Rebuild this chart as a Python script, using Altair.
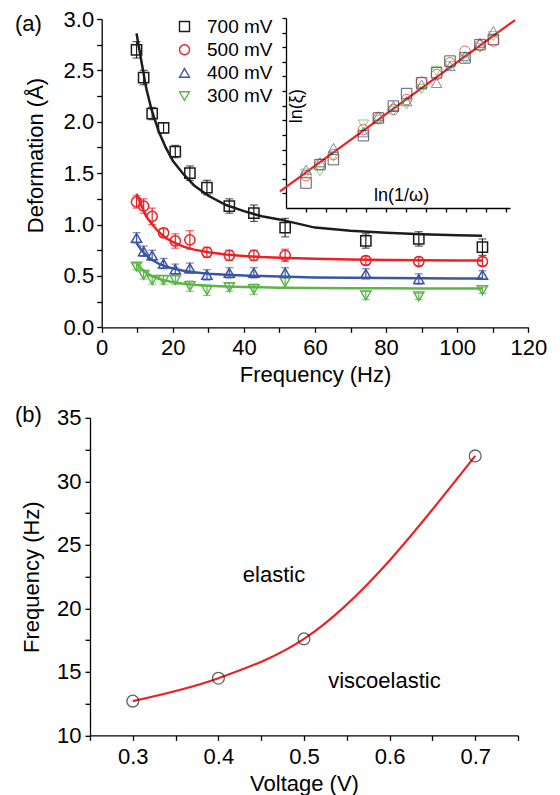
import altair as alt
import pandas as pd

FONT = "Liberation Sans"

# ---------------- data: panel (a) ----------------
series_names = ["700 mV", "500 mV", "400 mV", "300 mV"]
series_colors = ["#1c1c1c", "#ee2024", "#3a55a5", "#5bb547"]
series_shapes = ["square", "circle", "triangle-up", "triangle-down"]

freq = [9.8, 11.8, 14.2, 17.4, 20.7, 24.8, 29.6, 35.9, 42.8, 51.6, 74.3, 89.2, 107.1]
def_700 = [2.70, 2.43, 2.08, 1.94, 1.71, 1.50, 1.36, 1.18, 1.11, 0.97, 0.84, 0.86, 0.78]
def_500 = [1.22, 1.18, 1.08, 0.92, 0.84, 0.85, 0.73, 0.70, 0.70, 0.70, 0.65, 0.64, 0.64]
def_400 = [0.87, 0.74, 0.70, 0.62, 0.565, 0.575, 0.51, 0.53, 0.53, 0.53, 0.52, 0.47, 0.51]
def_300 = [0.59, 0.51, 0.46, 0.46, 0.46, 0.40, 0.36, 0.39, 0.37, 0.44, 0.31, 0.30, 0.36]
err_700 = [0.08, 0.07, 0.06, 0.05, 0.06, 0.07, 0.07, 0.07, 0.08, 0.09, 0.07, 0.07, 0.08]
err_500 = [0.06, 0.07, 0.08, 0.04, 0.07, 0.09, 0.05, 0.05, 0.05, 0.06, 0.04, 0.04, 0.04]
err_400 = [0.05, 0.05, 0.05, 0.05, 0.05, 0.05, 0.05, 0.05, 0.05, 0.05, 0.05, 0.05, 0.04]
err_300 = [0.03, 0.04, 0.04, 0.04, 0.04, 0.05, 0.05, 0.04, 0.05, 0.05, 0.04, 0.03, 0.03]

fit_freq = [9.8, 11, 12.5, 14, 16, 18, 20, 23, 26, 30, 35, 40, 45, 50, 60, 70, 80, 90, 100, 107]
fit_700 = [2.86, 2.62, 2.33, 2.12, 1.91, 1.75, 1.62, 1.49, 1.38, 1.28, 1.19, 1.13, 1.08, 1.05,
           0.97, 0.94, 0.92, 0.905, 0.895, 0.89]
fit_500 = [1.30, 1.20, 1.08, 1.01, 0.93, 0.87, 0.83, 0.785, 0.756, 0.73, 0.708, 0.694, 0.683,
           0.676, 0.666, 0.66, 0.655, 0.652, 0.65, 0.65]
fit_400 = [0.82, 0.76, 0.70, 0.66, 0.62, 0.593, 0.573, 0.551, 0.536, 0.522, 0.511, 0.503, 0.498,
           0.494, 0.485, 0.482, 0.479, 0.477, 0.475, 0.474]
fit_300 = [0.62, 0.575, 0.532, 0.50, 0.473, 0.454, 0.439, 0.424, 0.414, 0.405, 0.397, 0.392,
           0.389, 0.386, 0.382, 0.38, 0.379, 0.378, 0.377, 0.377]

x_ticks_a = [0, 10, 20, 30, 40, 50, 60, 70, 80, 90, 100, 110, 120]
y_ticks_a = [0, 0.25, 0.5, 0.75, 1.0, 1.25, 1.5, 1.75, 2.0, 2.25, 2.5, 2.75, 3.0]

# inset: ln(xi) vs ln(1/omega), arbitrary units
inset_x = [1.0, 1.7, 2.37, 3.87, 4.62, 5.37, 6.03, 6.78, 7.53, 8.2, 8.95, 9.7, 10.37]
inset_700 = [1.71, 2.97, 3.31, 4.95, 6.16, 6.97, 7.83, 8.56, 9.25, 10.05, 10.27, 11.18, 11.53]
inset_500 = [2.21, 2.97, 3.65, 5.36, 6.16, 6.74, 7.42, 8.61, 9.13, 9.93, 10.73, 11.12, 11.42]
inset_400 = [2.62, 3.13, 4.11, 5.18, 6.28, 6.97, 7.31, 8.45, 8.56, 9.71, 10.39, 11.30, 12.10]
inset_300 = [2.35, 2.51, 3.54, 5.71, 6.01, 6.62, 7.08, 8.15, 9.36, 9.71, 10.16, 10.96, 11.76]
inset_fit_x = [-0.3, 11.45]
inset_fit_y = [1.14, 12.86]
inset_x_ticks = [1, 2, 3, 4, 5, 6, 7, 8, 9, 10, 11]
inset_y_ticks = [1, 2, 3, 4, 5, 6, 7, 8, 9, 10, 11, 12, 13]

# ---------------- data: panel (b) ----------------
voltage = [0.3, 0.4, 0.5, 0.7]
crit_freq = [12.7, 14.5, 17.6, 32.0]
x_ticks_b = [0.25, 0.3, 0.35, 0.4, 0.45, 0.5, 0.55, 0.6, 0.65, 0.7, 0.75]
y_ticks_b = [10, 12.5, 15, 17.5, 20, 22.5, 25, 27.5, 30, 32.5, 35]
region_labels = ["elastic", "viscoelastic"]
region_x = [0.465, 0.594]
region_y = [22.6, 14.3]

# ---------------- tables ----------------
vals = [def_700, def_500, def_400, def_300]
errs = [err_700, err_500, err_400, err_300]
fits = [fit_700, fit_500, fit_400, fit_300]
insets = [inset_700, inset_500, inset_400, inset_300]

pts_rows, fit_rows, in_rows = [], [], []
for name, v, e, fy, iy in zip(series_names, vals, errs, fits, insets):
    for f, val, er in zip(freq, v, e):
        pts_rows.append({"series": name, "freq": f, "val": val, "lo": val - er, "hi": val + er})
    for f, y in zip(fit_freq, fy):
        fit_rows.append({"series": name, "freq": f, "val": y})
    for x, y in zip(inset_x, iy):
        in_rows.append({"series": name, "ix": x, "iy": y})
pts = pd.DataFrame(pts_rows)
fitdf = pd.DataFrame(fit_rows)
indf = pd.DataFrame(in_rows)
infit = pd.DataFrame({"ix": inset_fit_x, "iy": inset_fit_y})

# ---------------- scales / encodings (a) ----------------
color_scale = alt.Scale(domain=series_names, range=series_colors)
shape_scale = alt.Scale(domain=series_names, range=series_shapes)

legend = alt.Legend(title=None, orient="none", legendX=85, legendY=-2, labelFontSize=19,
                    labelFont=FONT, labelColor="black", symbolSize=100, symbolStrokeWidth=1.4,
                    labelOffset=13, rowPadding=3.2, padding=0)

xs_a = alt.Scale(domain=[0, 120], range=[11.7, 438.3], nice=False, zero=False)
ys_a = alt.Scale(domain=[0, 3], nice=False, zero=False)
xax_a = alt.Axis(orient="bottom", values=x_ticks_a, format="d",
                 labelExpr="datum.value % 20 == 0 ? datum.label : ''",
                 title="Frequency (Hz)", titlePadding=6, labelPadding=5)
yax_a = alt.Axis(orient="left", values=y_ticks_a, offset=-11.7,
                 labelExpr="datum.value % 0.5 == 0 ? format(datum.value, '.1f') : ''",
                 title="Deformation (Å)", titlePadding=16, labelPadding=3, titleY=136)

def xa(field):
    return alt.X(f"{field}:Q", scale=xs_a, axis=xax_a)

def ya(field):
    return alt.Y(f"{field}:Q", scale=ys_a, axis=yax_a)

stroke_enc = alt.Stroke("series:N", scale=color_scale, legend=None)

rules = alt.Chart(pts).mark_rule(strokeWidth=1.2).encode(
    x=xa("freq"), y=ya("lo"), y2="hi:Q", stroke=stroke_enc)
cap_hi = alt.Chart(pts).mark_point(shape="stroke", size=64, strokeWidth=1.2, filled=False).encode(
    x=xa("freq"), y=ya("hi"), stroke=stroke_enc)
cap_lo = alt.Chart(pts).mark_point(shape="stroke", size=64, strokeWidth=1.2, filled=False).encode(
    x=xa("freq"), y=ya("lo"), stroke=stroke_enc)
points = alt.Chart(pts).mark_point(filled=False, size=105, strokeWidth=1.5, opacity=1).encode(
    x=xa("freq"), y=ya("val"),
    color=alt.Color("series:N", scale=color_scale, legend=legend),
    shape=alt.Shape("series:N", scale=shape_scale, legend=legend))
lines = alt.Chart(fitdf).mark_line(strokeWidth=2.5).encode(
    x=xa("freq"), y=ya("val"), stroke=stroke_enc)

main_a = alt.layer(rules, cap_hi, cap_lo, points, lines)

# inset
xs_in = alt.Scale(domain=[0, 11.2], range=[196, 420], nice=False, zero=False)
ys_in = alt.Scale(domain=[0, 13], range=[189, -1], nice=False, zero=False)
xax_in = alt.Axis(orient="bottom", offset=-119.3, values=inset_x_ticks, labels=False,
                  title=None, tickSize=4)
yax_in = alt.Axis(orient="left", offset=-196, values=inset_y_ticks, labels=False,
                  title=None, tickSize=4)

def xi(field):
    return alt.X(f"{field}:Q", scale=xs_in, axis=xax_in)

def yi(field):
    return alt.Y(f"{field}:Q", scale=ys_in, axis=yax_in)

in_pts = alt.Chart(indf).mark_point(filled=False, size=110, strokeWidth=1.0).encode(
    x=xi("ix"), y=yi("iy"),
    color=alt.Color("series:N", scale=color_scale, legend=None),
    shape=alt.Shape("series:N", scale=shape_scale, legend=None))
in_line = alt.Chart(infit).mark_line(color="#ee2024", strokeWidth=2.2).encode(
    x=xi("ix"), y=yi("iy"))
in_lab_x = alt.Chart(pd.DataFrame({"ix": [5.78], "iy": [0.8], "t": ["ln(1/ω)"]})).mark_text(
    fontSize=18, font=FONT, color="black").encode(x=xi("ix"), y=yi("iy"), text="t:N")
in_lab_y = alt.Chart(pd.DataFrame({"ix": [0.53], "iy": [6.97], "t": ["ln(ξ)"]})).mark_text(
    fontSize=18, font=FONT, color="black", angle=270).encode(x=xi("ix"), y=yi("iy"), text="t:N")

inset = alt.layer(in_line, in_pts, in_lab_x, in_lab_y)

lab_a = alt.Chart(pd.DataFrame({"t": ["(a)"]})).mark_text(
    fontSize=22, font=FONT, color="black", align="left", baseline="middle").encode(
    x=alt.value(-75), y=alt.value(4.7), text="t:N")

panel_a = alt.layer(main_a, inset, lab_a).resolve_scale(
    x="independent", y="independent").resolve_legend(
    color="independent", shape="independent").properties(width=438.3, height=308.3)

# ---------------- panel (b) ----------------
bdf = pd.DataFrame({"v": voltage, "f": crit_freq})
xs_b = alt.Scale(domain=[0.25, 0.75], nice=False, zero=False)
ys_b = alt.Scale(domain=[10, 35], nice=False, zero=False)
xax_b = alt.Axis(values=x_ticks_b, title="Voltage (V)", titlePadding=6, labelPadding=6,
                 labelExpr="round(datum.value * 100) % 10 == 0 ? format(datum.value, '.1f') : ''")
yax_b = alt.Axis(values=y_ticks_b, title="Frequency (Hz)", titlePadding=13, labelPadding=4,
                 labelExpr="datum.value % 5 == 0 ? format(datum.value, 'd') : ''")

line_b = alt.Chart(bdf).mark_line(color="#ee2024", strokeWidth=2.2, interpolate="monotone").encode(
    x=alt.X("v:Q", scale=xs_b, axis=xax_b), y=alt.Y("f:Q", scale=ys_b, axis=yax_b))
pts_b = alt.Chart(bdf).mark_point(shape="circle", filled=False, size=140, color="#222222",
                                  strokeWidth=1.3).encode(
    x=alt.X("v:Q", scale=xs_b, axis=xax_b), y=alt.Y("f:Q", scale=ys_b, axis=yax_b))
txt_b = alt.Chart(pd.DataFrame({"v": region_x, "f": region_y, "t": region_labels})).mark_text(
    fontSize=22, font=FONT, color="black").encode(
    x=alt.X("v:Q", scale=xs_b, axis=xax_b), y=alt.Y("f:Q", scale=ys_b, axis=yax_b), text="t:N")
lab_b = alt.Chart(pd.DataFrame({"t": ["(b)"]})).mark_text(
    fontSize=22, font=FONT, color="black", align="left", baseline="middle").encode(
    x=alt.value(-75), y=alt.value(-2.7), text="t:N")

panel_b = alt.layer(line_b, pts_b, txt_b, lab_b).properties(width=428, height=317.6)

chart = alt.vconcat(panel_a, panel_b, spacing=89.8, bounds="flush").properties(
    padding={"left": 7, "top": 0, "right": 5, "bottom": 5}
).configure_view(stroke=None).configure_axis(
    grid=False, domainColor="black", tickColor="black", labelColor="black", titleColor="black",
    labelFont=FONT, titleFont=FONT, labelFontSize=22, titleFontSize=22, titleFontWeight="normal",
    tickSize=5, domainWidth=1.3, tickWidth=1.3, labelFlush=False, labelOverlap=False
).configure_text(font=FONT)

chart.save("out.html", embed_options={"renderer": "svg", "actions": False})
